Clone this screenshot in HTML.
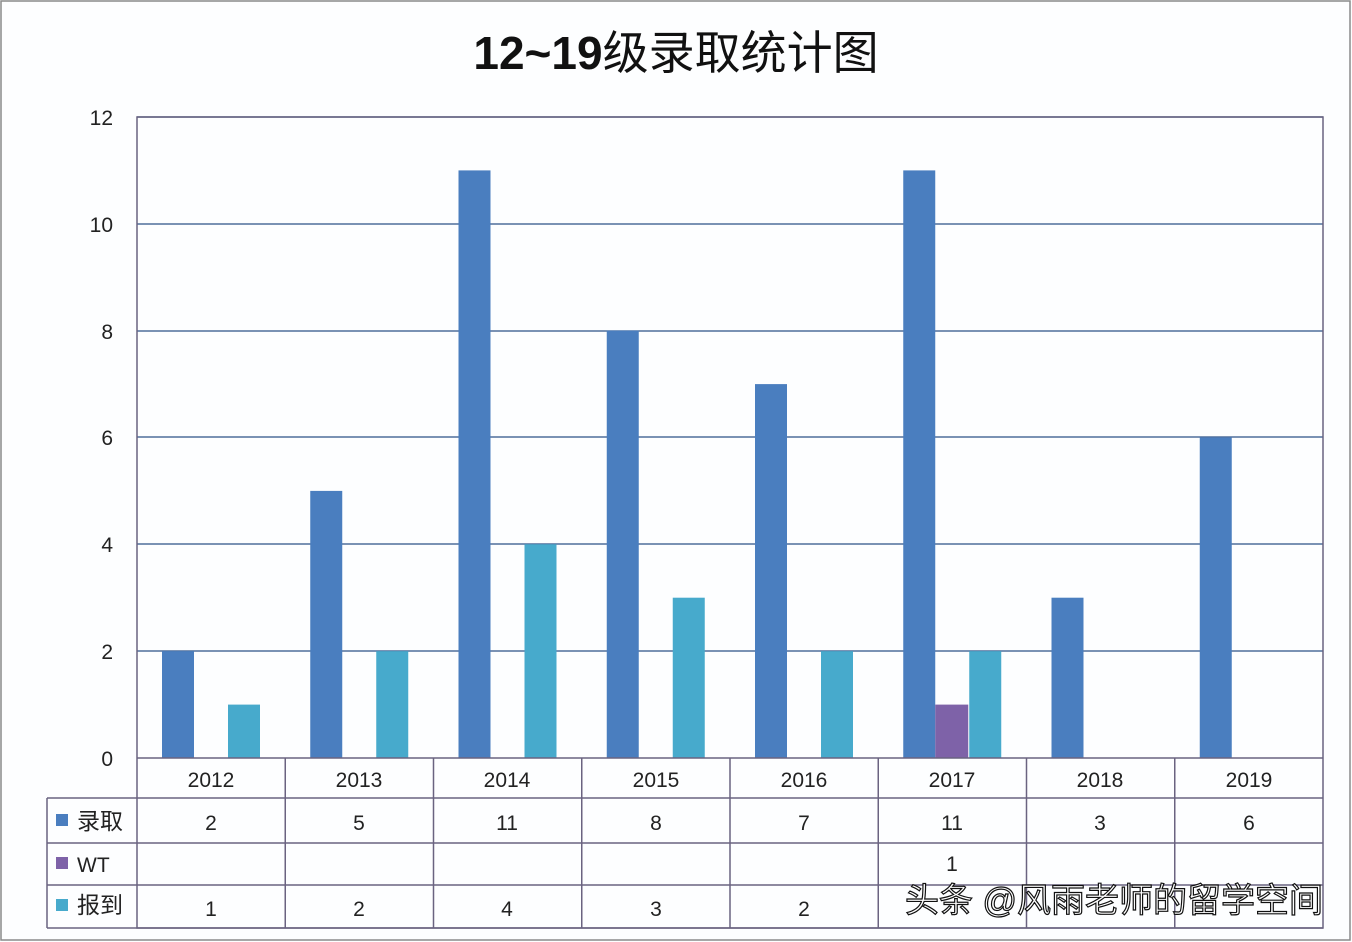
<!DOCTYPE html>
<html><head><meta charset="utf-8"><style>
html,body{margin:0;padding:0;background:#fff;}
svg{display:block;font-family:"Liberation Sans","Noto Sans CJK SC",sans-serif;}
</style></head><body>
<svg width="1352" height="942" viewBox="0 0 1352 942" xmlns="http://www.w3.org/2000/svg">
<rect x="0" y="0" width="1352" height="942" fill="#fdfeff"/>
<rect x="1" y="1" width="1349" height="939" fill="none" stroke="#8a8a8a" stroke-width="1.5"/>
<text x="676" y="69" text-anchor="middle" font-size="46" fill="#111" font-weight="bold">12~19<tspan font-weight="normal">级录取统计图</tspan></text>
<g stroke="#4f6f9c" stroke-width="1.5">
<line x1="137" y1="117" x2="1323" y2="117"/>
<line x1="137" y1="224" x2="1323" y2="224"/>
<line x1="137" y1="331" x2="1323" y2="331"/>
<line x1="137" y1="437" x2="1323" y2="437"/>
<line x1="137" y1="544" x2="1323" y2="544"/>
<line x1="137" y1="651" x2="1323" y2="651"/>
</g>
<g font-size="21" fill="#222" text-anchor="end">
<text x="113" y="125">12</text><text x="113" y="232">10</text><text x="113" y="339">8</text>
<text x="113" y="445">6</text><text x="113" y="552">4</text><text x="113" y="659">2</text><text x="113" y="766">0</text>
</g>
<g fill="#4a7ebf">
<rect x="162" y="651.2" width="32" height="106.8"/>
<rect x="310.25" y="490.9" width="32" height="267.1"/>
<rect x="458.5" y="170.4" width="32" height="587.6"/>
<rect x="606.75" y="330.6" width="32" height="427.4"/>
<rect x="755" y="384.1" width="32" height="373.9"/>
<rect x="903.25" y="170.4" width="32" height="587.6"/>
<rect x="1051.5" y="597.7" width="32" height="160.3"/>
<rect x="1199.75" y="437.5" width="32" height="320.5"/>
</g>
<rect x="935.25" y="704.6" width="33" height="53.4" fill="#7e62a8"/>
<g fill="#47aacc">
<rect x="228" y="704.6" width="32" height="53.4"/>
<rect x="376.25" y="651.2" width="32" height="106.8"/>
<rect x="524.5" y="544.3" width="32" height="213.7"/>
<rect x="672.75" y="597.7" width="32" height="160.3"/>
<rect x="821" y="651.2" width="32" height="106.8"/>
<rect x="969.25" y="651.2" width="32" height="106.8"/>
</g>
<g stroke="#6a6380" stroke-width="1.5" fill="none">
<rect x="137" y="117" width="1186" height="811"/>
<line x1="137" y1="758" x2="1323" y2="758"/>
<line x1="47" y1="798" x2="1323" y2="798"/>
<line x1="47" y1="843" x2="1323" y2="843"/>
<line x1="47" y1="885" x2="1323" y2="885"/>
<line x1="47" y1="928" x2="1323" y2="928"/>
<line x1="47" y1="798" x2="47" y2="928"/>
<line x1="285.25" y1="758" x2="285.25" y2="928"/>
<line x1="433.5" y1="758" x2="433.5" y2="928"/>
<line x1="581.75" y1="758" x2="581.75" y2="928"/>
<line x1="730" y1="758" x2="730" y2="928"/>
<line x1="878.25" y1="758" x2="878.25" y2="928"/>
<line x1="1026.5" y1="758" x2="1026.5" y2="928"/>
<line x1="1174.75" y1="758" x2="1174.75" y2="928"/>
</g>
<g font-size="21" fill="#222" text-anchor="middle">
<text x="211" y="787">2012</text><text x="359" y="787">2013</text><text x="507" y="787">2014</text><text x="656" y="787">2015</text>
<text x="804" y="787">2016</text><text x="952" y="787">2017</text><text x="1100" y="787">2018</text><text x="1249" y="787">2019</text>
<text x="211" y="830">2</text><text x="359" y="830">5</text><text x="507" y="830">11</text><text x="656" y="830">8</text>
<text x="804" y="830">7</text><text x="952" y="830">11</text><text x="1100" y="830">3</text><text x="1249" y="830">6</text>
<text x="952" y="871">1</text>
<text x="211" y="916">1</text><text x="359" y="916">2</text><text x="507" y="916">4</text><text x="656" y="916">3</text><text x="804" y="916">2</text>
</g>
<rect x="56" y="814" width="12" height="12" fill="#4a7ebf"/>
<rect x="56" y="857" width="12" height="12" fill="#7e62a8"/>
<rect x="56" y="899" width="12" height="12" fill="#47aacc"/>
<g font-size="23" fill="#222">
<text x="77" y="829">录取</text>
<text x="77" y="872" font-size="21">WT</text>
<text x="77" y="913">报到</text>
</g>
<text x="1323" y="912" text-anchor="end" font-size="34" fill="#fff" stroke="#111" stroke-width="1.2">头条 @风雨老师的留学空间</text>
</svg>
</body></html>
